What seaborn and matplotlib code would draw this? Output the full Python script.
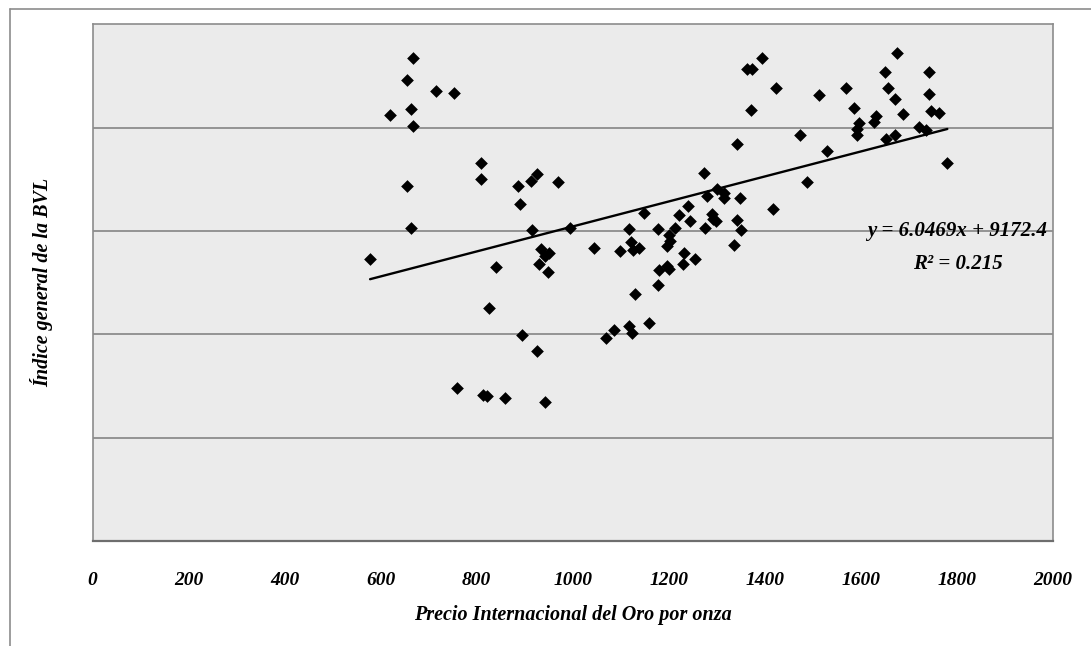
import matplotlib
matplotlib.use("Agg")
import matplotlib.pyplot as plt
import seaborn as sns
import pandas as pd
from matplotlib.lines import Line2D

# Gold price per ounce (x) and BVL general index (y)
gold_price = [578, 620, 655, 654, 664, 667, 667, 664, 715, 753, 759, 808, 808, 814, 821,
              826, 840, 858, 887, 891, 894, 913, 916, 926, 926, 929, 934, 942, 942, 948,
              951, 970, 995, 1044, 1069, 1085, 1098, 1117, 1117, 1121, 1124, 1126, 1130,
              1137, 1149, 1159, 1178, 1178, 1180, 1197, 1197, 1200, 1200, 1203, 1212,
              1222, 1229, 1232, 1241, 1245, 1255, 1273, 1276, 1280, 1289, 1293, 1298,
              1300, 1315, 1315, 1336, 1343, 1343, 1348, 1350, 1362, 1373, 1372, 1394,
              1416, 1423, 1473, 1487, 1513, 1529, 1570, 1586, 1592, 1592, 1596, 1627,
              1631, 1650, 1653, 1656, 1670, 1672, 1676, 1688, 1721, 1736, 1742, 1742,
              1745, 1762, 1780]
bvl_index = [13629, 20624, 22303, 17160, 20886, 23368, 20092, 15143, 21771, 21689, 7388,
             18273, 17514, 7078, 7001, 11273, 13271, 6933, 17160, 16304, 9981, 17431,
             15032, 17755, 9207, 13401, 14112, 6710, 13788, 13029, 13948, 17368, 15157,
             14161, 9821, 10223, 14030, 15080, 10416, 14451, 10063, 14079, 11950, 14161,
             15854, 10532, 12400, 15080, 13111, 14272, 13305, 14804, 13159, 14514, 15157,
             15760, 13387, 13948, 16222, 15467, 13658, 17818, 15143, 16691, 15806, 15564,
             15482, 17015, 16822, 16580, 14320, 19192, 15530, 16609, 15061, 22850, 22850,
             20866, 23382, 16077, 21931, 19642, 17354, 21563, 18883, 21916, 20934, 19918,
             19657, 20223, 20271, 20562, 22690, 19434, 21931, 19628, 21399, 23609, 20644,
             20029, 19884, 22690, 21626, 20803, 20721, 18273]

# Trend line coefficients (as reported on the chart)
slope = 6.0469
intercept = 9172.4
r_squared = 0.215

x_ticks = [0, 200, 400, 600, 800, 1000, 1200, 1400, 1600, 1800, 2000]
y_grid = [5000, 10000, 15000, 20000]

sns.set_style("white")
plt.rcParams['font.family'] = ['Liberation Serif', 'DejaVu Serif']
plt.rcParams['text.color'] = 'black'
plt.rcParams['axes.labelcolor'] = 'black'
plt.rcParams['xtick.color'] = 'black'

df = pd.DataFrame({"x": gold_price, "y": bvl_index})
xmin, xmax = min(gold_price), max(gold_price)
trend = pd.DataFrame({"x": [xmin, xmax],
                      "y": [slope * xmin + intercept, slope * xmax + intercept]})

fig = plt.figure(figsize=(10.91, 6.46), dpi=100)
ax = fig.add_axes([92.5 / 1091, 1 - 541 / 646, (1053 - 92.5) / 1091, (541 - 24.3) / 646])
ax.set_facecolor('#EBEBEB')

for g in y_grid:
    ax.axhline(g, color='#8C8C8C', lw=1.3, zorder=1)

sns.lineplot(data=trend, x="x", y="y", color='black', lw=1.7, ax=ax, zorder=2)
sns.scatterplot(data=df, x="x", y="y", marker='D', s=42, color='black',
                edgecolor='black', linewidth=0, ax=ax, zorder=3)

ax.set_xlim(0, 2000)
ax.set_ylim(0, 25000)
ax.set_xticks(x_ticks)
ax.set_xticklabels([str(t) for t in x_ticks], fontsize=14, fontweight='bold',
                   fontstyle='italic', color='black')
ax.set_yticks([])
ax.tick_params(axis='x', direction='out', length=6, width=1, color='#8C8C8C', pad=16)

for side in ['left', 'top', 'right']:
    ax.spines[side].set_color('#8C8C8C')
    ax.spines[side].set_linewidth(1.2)
ax.spines['bottom'].set_color('#6E6E6E')
ax.spines['bottom'].set_linewidth(1.6)

ax.set_xlabel('Precio Internacional del Oro por onza', fontsize=14.5, fontweight='bold',
              fontstyle='italic', labelpad=12, color='black')
ax.set_ylabel('Índice general de la BVL', fontsize=14.5, fontweight='bold',
              fontstyle='italic', labelpad=28, color='black')

ax.text(1800, 15000, f'y = {slope}x + {intercept}', ha='center', va='center',
        fontsize=15, fontweight='bold', fontstyle='italic', zorder=4, color='black')
ax.text(1803, 13400, f'R\u00b2 = {r_squared}', ha='center', va='center',
        fontsize=15, fontweight='bold', fontstyle='italic', zorder=4, color='black')

# outer chart frame (left and top edges visible)
fig.add_artist(Line2D([10 / 1091, 10 / 1091], [0, 1 - 9 / 646], transform=fig.transFigure,
                      color='#8C8C8C', lw=1.2))
fig.add_artist(Line2D([10 / 1091, 1], [1 - 9 / 646, 1 - 9 / 646], transform=fig.transFigure,
                      color='#8C8C8C', lw=1.2))

fig.savefig('out.png', dpi=100, facecolor='white')
